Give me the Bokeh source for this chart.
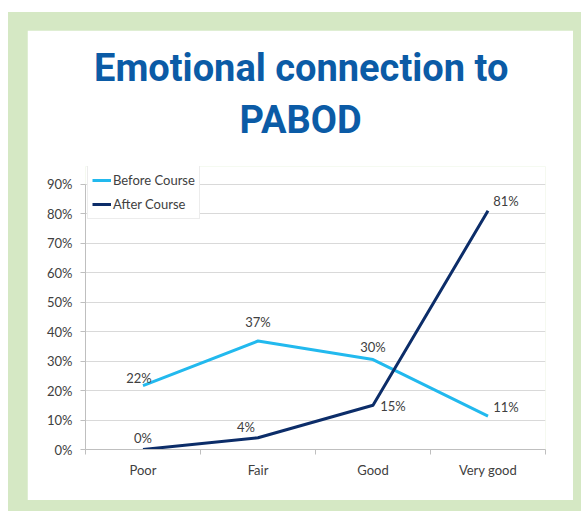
from bokeh.plotting import figure
from bokeh.models import (ColumnDataSource, Title, Legend, LegendItem, FixedTicker,
                          PrintfTickFormatter, Range1d, LabelSet)
from bokeh.core.properties import value
from bokeh.layouts import column
from bokeh.embed import file_html
from bokeh.resources import INLINE

# ---- data ----
categories = ["Poor", "Fair", "Good", "Very good"]
before_course = [21.7, 36.8, 30.5, 11.3]
after_course = [0, 4, 15, 81]
y_ticks = [0, 10, 20, 30, 40, 50, 60, 70, 80, 90]
title_lines = ["Emotional connection to", "PABOD"]

# ---- styles ----
GREEN = "#d5e8c4"
BEFORE_COLOR = "#22b9ee"
AFTER_COLOR = "#0c2d69"
TITLE_COLOR = "#0b5ba6"
TEXT_COLOR = "#404040"
FONT = "Lato"
FS = "13px"

# label offsets (screen px) for the data labels
before_dx = [-4, 0, 0, 18]
before_dy = [8, 19, 13, 9]
after_dx = [0, -12, 20, 18]
after_dy = [12, 11, -1, 10]

xs = list(range(len(categories)))

p = figure(width=546, height=470, output_backend="svg", toolbar_location=None,
           title=None, x_range=Range1d(-0.5, len(categories) - 0.5),
           y_range=Range1d(0, 96), min_border_left=58, min_border_right=28,
           min_border_bottom=51, min_border_top=10)
p.background_fill_color = "white"
p.border_fill_color = "white"
p.outline_line_color = None

spacer = Title(text=" ", text_font_size="1px", standoff=29)
t2 = Title(text=title_lines[1], align="left", offset=154, text_font="Roboto",
           text_font_style="bold", text_font_size="38px", text_color=TITLE_COLOR,
           standoff=-15)
t1 = Title(text=title_lines[0], align="left", offset=8.5, text_font="Roboto",
           text_font_style="bold", text_font_size="38px", text_color=TITLE_COLOR,
           standoff=27)
p.add_layout(spacer, "above")
p.add_layout(t2, "above")
p.add_layout(t1, "above")

src_b = ColumnDataSource(dict(x=xs, y=before_course,
                              lab=[f"{round(v)}%" for v in before_course],
                              dx=before_dx, dy=before_dy))
src_a = ColumnDataSource(dict(x=xs, y=after_course,
                              lab=[f"{round(v)}%" for v in after_course],
                              dx=after_dx, dy=after_dy))

rb = p.line("x", "y", source=src_b, line_color=BEFORE_COLOR, line_width=3, line_join="round")
ra = p.line("x", "y", source=src_a, line_color=AFTER_COLOR, line_width=3, line_join="round")

for src in (src_b, src_a):
    p.add_layout(LabelSet(x="x", y="y", text="lab", source=src, x_offset="dx", y_offset="dy",
                          text_align="center", text_baseline="middle",
                          text_font=value(FONT), text_font_size=value(FS),
                          text_color=TEXT_COLOR))

# axes
xa = p.xaxis[0]
xa.ticker = FixedTicker(ticks=xs, minor_ticks=[i - 0.5 for i in range(len(categories) + 1)])
xa.major_label_overrides = {i: c for i, c in enumerate(categories)}
xa.major_tick_in = 0
xa.major_tick_out = 0
xa.minor_tick_in = 0
xa.minor_tick_out = 5
xa.minor_tick_line_color = "#bfbfbf"
xa.axis_line_color = "#bfbfbf"
xa.major_label_standoff = 7
xa.major_label_text_font = FONT
xa.major_label_text_font_size = FS
xa.major_label_text_color = TEXT_COLOR

ya = p.yaxis[0]
ya.ticker = FixedTicker(ticks=y_ticks)
ya.formatter = PrintfTickFormatter(format="%d%%")
ya.bounds = (y_ticks[0], y_ticks[-1])
ya.major_tick_in = 0
ya.major_tick_out = 5
ya.minor_tick_line_color = None
ya.major_tick_line_color = "#bfbfbf"
ya.axis_line_color = "#bfbfbf"
ya.major_label_standoff = 8
ya.major_label_text_font = FONT
ya.major_label_text_font_size = FS
ya.major_label_text_color = TEXT_COLOR

p.xgrid.grid_line_color = None
p.ygrid.grid_line_color = "#d9d9d9"
p.ygrid.ticker = FixedTicker(ticks=y_ticks)

legend = Legend(items=[LegendItem(label="Before Course", renderers=[rb]),
                       LegendItem(label="After Course", renderers=[ra])],
                location=(2, 230), glyph_width=19, glyph_height=20, label_height=20,
                label_standoff=2, spacing=4, padding=4, margin=0,
                label_text_font=FONT, label_text_font_size=FS,
                label_text_color=TEXT_COLOR, border_line_color="#d9d9d9",
                background_fill_color="white", background_fill_alpha=1)
p.add_layout(legend)

inner = column(p, margin=(12, 0, 0, 8),
               styles={"background-color": GREEN, "padding": "18px 8px 11px 19px"})

open("out.html", "w").write(file_html(inner, INLINE))
